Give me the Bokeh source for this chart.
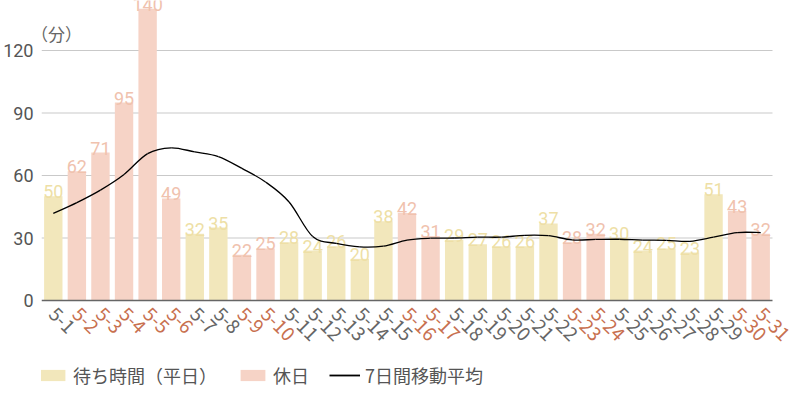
import math
from bokeh.plotting import figure
from bokeh.models import (ColumnDataSource, FixedTicker, Range1d, Legend,
                          LegendItem, Label)
from bokeh.core.properties import value
from bokeh.embed import file_html
from bokeh.resources import INLINE

# ---- data ----
dates = ["5-1", "5-2", "5-3", "5-4", "5-5", "5-6", "5-7", "5-8", "5-9", "5-10",
         "5-11", "5-12", "5-13", "5-14", "5-15", "5-16", "5-17", "5-18", "5-19",
         "5-20", "5-21", "5-22", "5-23", "5-24", "5-25", "5-26", "5-27", "5-28",
         "5-29", "5-30", "5-31"]
wait_minutes = [50, 62, 71, 95, 140, 49, 32, 35, 22, 25, 28, 24, 26, 20, 38, 42,
                31, 29, 27, 26, 26, 37, 28, 32, 30, 24, 25, 23, 51, 43, 32]
holiday = [0, 1, 1, 1, 1, 1, 0, 0, 1, 1, 0, 0, 0, 0, 0, 1, 1, 0, 0, 0, 0, 0,
           1, 1, 0, 0, 0, 0, 0, 1, 1]
moving_avg_7d = [41.8, 47.0, 53.0, 60.5, 70.5, 73.3, 71.3, 69.1, 63.4, 56.9,
                 47.3, 30.7, 27.4, 25.7, 26.1, 29.0, 29.9, 30.0, 30.4, 30.4,
                 31.3, 31.1, 29.1, 29.3, 29.4, 29.0, 28.9, 28.4, 30.4, 32.6, 32.6]
y_ticks = [0, 30, 60, 90, 120]
grid_ticks = [30, 60, 90, 120]
unit_label = "（分）"
legend_labels = ["待ち時間（平日）", "休日", "7日間移動平均"]

# ---- styles ----
BAR_WD, BAR_HD = "#f2e7bb", "#f6d3c6"
LBL_WD, LBL_HD = "#eedfa6", "#f0c2ae"
TICK_WD, TICK_HD = "#666666", "#c8704f"
NUM_FONT = "Roboto"
CJK_FONT = "Noto Sans CJK JP"

n = len(dates)
idx = list(range(n))
src = ColumnDataSource(dict(
    x=idx,
    top=wait_minutes,
    label=[str(v) for v in wait_minutes],
    date=dates,
    fill=[BAR_HD if h else BAR_WD for h in holiday],
    lcol=[LBL_HD if h else LBL_WD for h in holiday],
    tcol=[TICK_HD if h else TICK_WD for h in holiday],
))

# frame spans to the right canvas edge so rotated labels are not clipped;
# the plotting area proper is x in [-0.5, n-0.5]
x_left, x_right = -0.5, n - 0.5
x_end = x_left + n * 760 / 731

p = figure(frame_width=760, frame_height=400, output_backend="svg",
           toolbar_location=None, x_range=Range1d(x_left, x_end),
           y_range=Range1d(-48, 144), x_axis_location=None,
           min_border_left=40, min_border_right=0, min_border_top=0,
           min_border_bottom=0)
p.outline_line_color = None
p.background_fill_color = "white"
p.border_fill_color = "white"

# y axis
p.yaxis.ticker = FixedTicker(ticks=y_ticks)
p.yaxis.axis_line_color = None
p.yaxis.major_tick_line_color = None
p.yaxis.minor_tick_line_color = None
p.yaxis.major_tick_out = 0
p.yaxis.major_tick_in = 0
p.yaxis.major_label_standoff = 8
p.yaxis.major_label_text_font = NUM_FONT
p.yaxis.major_label_text_font_size = "18px"
p.yaxis.major_label_text_color = "#555555"

p.xgrid.visible = False
p.ygrid.visible = False

# horizontal grid lines over the plotting area
p.segment(x0=[x_left] * len(grid_ticks), x1=[x_right] * len(grid_ticks),
          y0=grid_ticks, y1=grid_ticks, line_color="#c9c9c9", line_width=1)

# bars
p.vbar(x="x", top="top", width=0.78, bottom=0, source=src,
       fill_color="fill", line_color=None)

# baseline
p.segment(x0=[x_left], x1=[x_right], y0=[0], y1=[0], line_color="#666666",
          line_width=1.5)

# bar value labels
p.text(x="x", y="top", text="label", source=src, text_align="center",
       text_baseline="bottom", y_offset=2, text_color="lcol",
       text_font=value(NUM_FONT), text_font_size="18px")

# rotated date labels
p.text(x="x", y=0, text="date", source=src, angle=-math.pi / 4,
       text_align="left", text_baseline="top", x_offset=4, y_offset=5,
       text_color="tcol", text_font=value(CJK_FONT), text_font_size="19px")

# smoothed moving average (Catmull-Rom via bezier)
m = len(moving_avg_7d)
x0, y0, x1, y1, cx0, cy0, cx1, cy1 = [], [], [], [], [], [], [], []
for i in range(m - 1):
    pm = max(i - 1, 0)
    pn = min(i + 2, m - 1)
    x0.append(idx[i]); y0.append(moving_avg_7d[i])
    x1.append(idx[i + 1]); y1.append(moving_avg_7d[i + 1])
    cx0.append(idx[i] + (idx[i + 1] - idx[pm]) / 6)
    cy0.append(moving_avg_7d[i] + (moving_avg_7d[i + 1] - moving_avg_7d[pm]) / 6)
    cx1.append(idx[i + 1] - (idx[pn] - idx[i]) / 6)
    cy1.append(moving_avg_7d[i + 1] - (moving_avg_7d[pn] - moving_avg_7d[i]) / 6)
p.bezier(x0=x0, y0=y0, x1=x1, y1=y1, cx0=cx0, cy0=cy0, cx1=cx1, cy1=cy1,
         line_color="black", line_width=1.3)

# legend proxies (zero-size, invisible in plot)
leg_wd = p.vbar(x=[0], top=[0], bottom=[0], width=0.5, fill_color=BAR_WD,
                line_color=None)
leg_hd = p.vbar(x=[0], top=[0], bottom=[0], width=0.5, fill_color=BAR_HD,
                line_color=None)
leg_ln = p.line(x=[0, 0], y=[0, 0], line_color="black", line_width=1.8)

legend = Legend(items=[LegendItem(label=legend_labels[0], renderers=[leg_wd]),
                       LegendItem(label=legend_labels[1], renderers=[leg_hd]),
                       LegendItem(label=legend_labels[2], renderers=[leg_ln])],
                orientation="horizontal", location=(-4, 12),
                glyph_width=31, glyph_height=14, label_height=14,
                label_standoff=5, spacing=20, padding=0, margin=0,
                border_line_color=None, background_fill_alpha=0,
                label_text_font=CJK_FONT, label_text_font_size="18px",
                label_text_color="#555555")
p.add_layout(legend, "center")

# unit label
p.add_layout(Label(x=-0.5, y=128, x_offset=-10.5, text=unit_label,
                   text_font=CJK_FONT, text_font_size="17px",
                   text_color="#666666", text_baseline="middle"))

open("out.html", "w").write(file_html(p, INLINE))
